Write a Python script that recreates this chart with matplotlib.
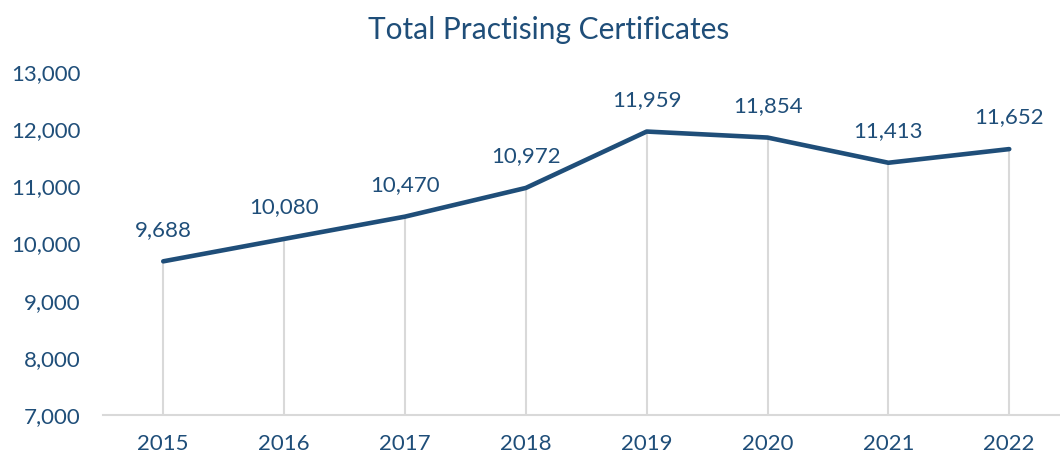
import matplotlib.pyplot as plt
from matplotlib.ticker import FuncFormatter

years = ["2015", "2016", "2017", "2018", "2019", "2020", "2021", "2022"]
certs = [9688, 10080, 10470, 10972, 11959, 11854, 11413, 11652]

blue = "#1F4E79"
grey = "#D9D9D9"

plt.rcParams['font.family'] = ['Lato', 'DejaVu Sans']

fig = plt.figure(figsize=(10.6, 4.59), dpi=100)
ax = fig.add_axes([0.097, 0.096, 0.903, 0.747])

x = list(range(len(years)))
ax.vlines(x, 7000, certs, color=grey, linewidth=1.5, zorder=1)
ax.plot(x, certs, color=blue, linewidth=3.3, solid_capstyle='round', zorder=3)

for xi, v in zip(x, certs):
    ax.annotate(f"{v:,}", (xi, v), xytext=(0, 15.5), textcoords='offset points',
                ha='center', va='bottom', color=blue, fontsize=16)

ax.set_xlim(-0.5, 7.42)
ax.set_ylim(7000, 13000)
ax.set_yticks(range(7000, 13001, 1000))
ax.yaxis.set_major_formatter(FuncFormatter(lambda v, p: f"{int(v):,}"))
ax.set_xticks(x)
ax.set_xticklabels(years)

for s in ['top', 'right', 'left']:
    ax.spines[s].set_visible(False)
ax.spines['bottom'].set_color(grey)
ax.spines['bottom'].set_linewidth(1.5)
ax.tick_params(axis='both', length=0, colors=blue, labelsize=16)
ax.tick_params(axis='x', pad=14)
ax.tick_params(axis='y', pad=16)

fig.suptitle("Total Practising Certificates", x=0.518, y=0.965, color=blue, fontsize=21.5)

fig.savefig("out.png", dpi=100)
